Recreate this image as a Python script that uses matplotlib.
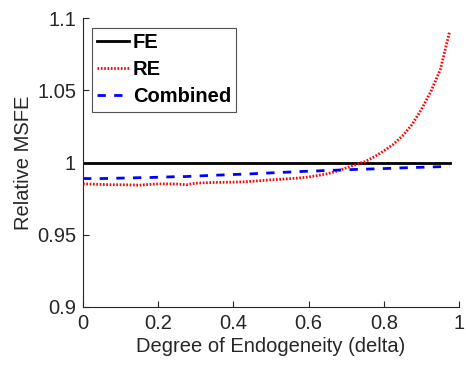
import matplotlib
matplotlib.use("Agg")
import matplotlib.pyplot as plt
import numpy as np

plt.rcParams['font.family'] = ['Liberation Sans', 'DejaVu Sans']

delta = [0.0, 0.025, 0.05, 0.075, 0.1, 0.125, 0.15, 0.175, 0.2, 0.225, 0.25, 0.275,
         0.3, 0.325, 0.35, 0.375, 0.4, 0.425, 0.45, 0.475, 0.5, 0.525, 0.55, 0.575,
         0.6, 0.625, 0.65, 0.675, 0.7, 0.725, 0.75, 0.775, 0.8, 0.825, 0.85, 0.875,
         0.9, 0.925, 0.95, 0.975]
fe = [1.0] * len(delta)
re = [0.9852, 0.9850, 0.9848, 0.9846, 0.9846, 0.9845, 0.9843, 0.9848, 0.9852, 0.9852,
      0.9851, 0.9846, 0.9857, 0.9860, 0.9862, 0.9863, 0.9864, 0.9866, 0.9870, 0.9875,
      0.9880, 0.9884, 0.9888, 0.9893, 0.9900, 0.9910, 0.9922, 0.9940, 0.9963, 0.9985,
      1.0006, 1.0040, 1.0080, 1.0125, 1.0185, 1.0262, 1.0368, 1.0490, 1.0641, 1.0905]
comb = [0.9889, 0.9889, 0.9889, 0.9890, 0.9892, 0.9893, 0.9895, 0.9896, 0.9898, 0.9900,
        0.9902, 0.9903, 0.9906, 0.9909, 0.9912, 0.9914, 0.9917, 0.9919, 0.9922, 0.9925,
        0.9928, 0.9931, 0.9934, 0.9937, 0.9940, 0.9942, 0.9945, 0.9947, 0.9950, 0.9952,
        0.9954, 0.9956, 0.9958, 0.9960, 0.9963, 0.9965, 0.9967, 0.9969, 0.9971, 0.9972]

fig = plt.figure(figsize=(4.66, 3.69), dpi=100)
ax = fig.add_axes([83/466, 1-307/369, (459-83)/466, (307-18)/369])

ax.plot(delta, fe, color='black', lw=2.0, ls='-', label='FE')
ax.plot(delta, re, color='red', lw=2.0, ls=(0, (0.6, 0.6)), label='RE')
ax.plot(delta, comb, color='blue', lw=2.0, ls=(0, (3, 3)), label='Combined')

ax.set_xlim(0, 1)
ax.set_ylim(0.9, 1.1)
ax.set_xticks([0, 0.2, 0.4, 0.6, 0.8, 1])
ax.set_xticklabels(['0', '0.2', '0.4', '0.6', '0.8', '1'])
ax.set_yticks([0.9, 0.95, 1.0, 1.05, 1.1])
ax.set_yticklabels(['0.9', '0.95', '1', '1.05', '1.1'])
ax.spines['top'].set_visible(False)
ax.spines['right'].set_visible(False)
for s in ['left', 'bottom']:
    ax.spines[s].set_color('#262626')
    ax.spines[s].set_linewidth(0.8)
ax.tick_params(direction='in', length=4, width=0.8, colors='#262626',
               labelsize=14.5, pad=5)
ax.set_xlabel('Degree of Endogeneity (delta)', fontsize=14.5, color='#262626', labelpad=3)
ax.set_ylabel('Relative MSFE', fontsize=14.5, color='#262626', labelpad=3)

leg = ax.legend(loc='upper left', bbox_to_anchor=(0.023, 0.967), frameon=True,
                fancybox=False, edgecolor='#262626', handlelength=1.6,
                handletextpad=0.2, borderpad=0.25, labelspacing=0.42,
                borderaxespad=0, prop={'weight': 'bold', 'size': 14.5})
leg.get_frame().set_linewidth(0.8)

fig.savefig('out.png', dpi=100)
